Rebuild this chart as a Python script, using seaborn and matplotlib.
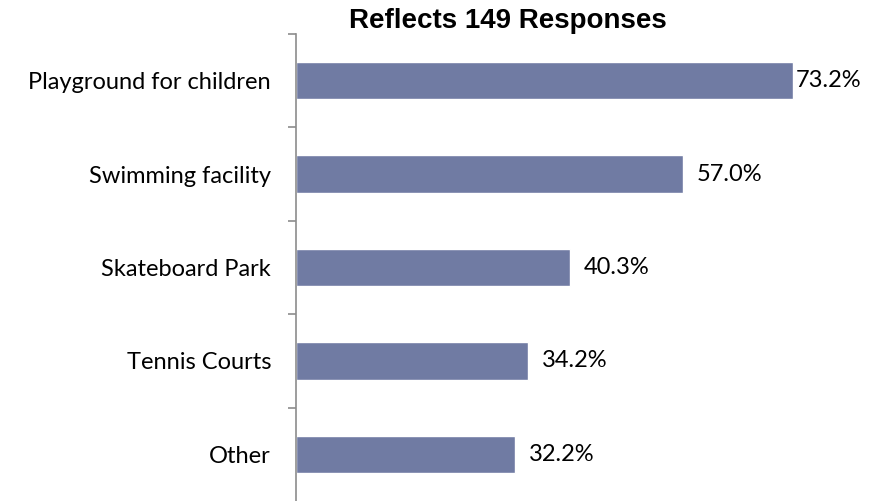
import matplotlib
matplotlib.use('Agg')
import matplotlib.pyplot as plt
import seaborn as sns
import pandas as pd

# data
categories = ['Playground for children', 'Swimming facility', 'Skateboard Park', 'Tennis Courts', 'Other']
percent = [73.2, 57.0, 40.3, 34.2, 32.2]
title = 'Reflects 149 Responses'

df = pd.DataFrame({'category': categories, 'percent': percent})

sns.set_style('white')
plt.rcParams['font.family'] = ['Lato', 'DejaVu Sans']
plt.rcParams['text.color'] = 'black'

fig = plt.figure(figsize=(8.8, 5.01), dpi=100)
ax = fig.add_axes([296 / 880, 0.0, 1 - 296 / 880 - 0.02, 1 - 34 / 501])

sns.barplot(data=df, x='percent', y='category', orient='h', color='#707ba3',
            width=0.4, saturation=1, ax=ax)

ax.set_xlim(0, 83.4)
ax.set_ylim(len(categories) - 0.5, -0.5)
ax.set_xlabel('')
ax.set_ylabel('')
ax.set_xticks([])

# category labels, tick marks between groups
ax.tick_params(axis='y', which='major', length=0, pad=18, labelsize=17, labelcolor='black')
ax.set_yticks(range(len(categories)), categories)
ax.set_yticks([i - 0.5 for i in range(len(categories))], minor=True)
ax.tick_params(axis='y', which='minor', length=6, width=1.2, color='#8c8c8c', direction='out', left=True)

for s in ['top', 'right', 'bottom']:
    ax.spines[s].set_visible(False)
ax.spines['left'].set_color('#8c8c8c')
ax.spines['left'].set_linewidth(1.2)

# value labels; the longest one is squeezed against the plot edge
for i, v in enumerate(percent):
    gap = 2 if v == max(percent) else 10
    ax.annotate(f'{v:.1f}%', (v, i), xytext=(gap, 0), textcoords='offset points',
                va='center', ha='left', fontsize=17, color='black')

fig.text(508 / 880, 1 - 21 / 501, title, ha='center', va='center', color='black',
         fontsize=20, fontweight='bold', family='Liberation Sans')

fig.savefig('out.png', dpi=100)
